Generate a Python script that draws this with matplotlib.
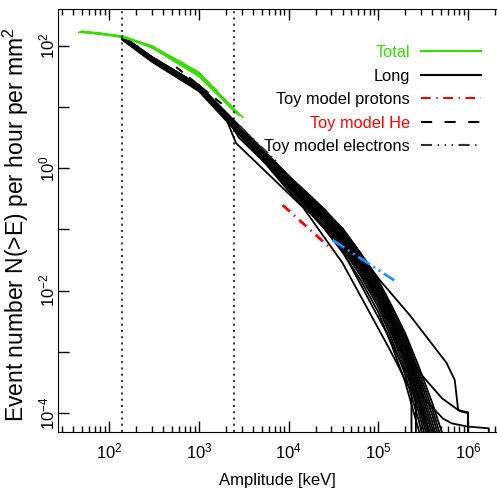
import numpy as np
import matplotlib
matplotlib.use('Agg')
from matplotlib import pyplot as plt

plt.rcParams['font.family'] = ['Liberation Sans', 'DejaVu Sans']
plt.rcParams['mathtext.fontset'] = 'custom'
plt.rcParams['mathtext.rm'] = 'Liberation Sans'
plt.rcParams['mathtext.default'] = 'regular'
plt.rcParams['lines.scale_dashes'] = False

FS = 12

# amplitude grid [keV] shared by the bundle of "Long" curves
long_e = [140, 300, 1000, 2500, 5000, 10000, 15800, 25100, 39800, 63100,
          100000, 141000, 200000, 282000, 398000, 562000]
# log10 of N(>E) for each curve of the bundle
long_logn = [
    [2.10, 1.74, 1.26, 0.63, 0.15, -0.37, -0.67, -0.99, -1.37, -1.82, -2.35, -2.89, -3.50, -4.28, -5.19, -6.30],
    [2.11, 1.75, 1.27, 0.65, 0.17, -0.33, -0.63, -0.94, -1.31, -1.75, -2.27, -2.79, -3.38, -4.12, -4.99, -6.03],
    [2.12, 1.76, 1.29, 0.67, 0.19, -0.30, -0.59, -0.90, -1.27, -1.70, -2.21, -2.71, -3.28, -3.99, -4.82, -5.81],
    [2.12, 1.77, 1.30, 0.68, 0.21, -0.28, -0.57, -0.87, -1.23, -1.66, -2.16, -2.65, -3.20, -3.89, -4.68, -5.63],
    [2.13, 1.78, 1.31, 0.69, 0.23, -0.26, -0.54, -0.85, -1.20, -1.62, -2.12, -2.60, -3.14, -3.81, -4.58, -5.49],
    [2.13, 1.78, 1.31, 0.70, 0.24, -0.25, -0.53, -0.83, -1.18, -1.60, -2.09, -2.57, -3.10, -3.76, -4.51, -5.40],
    [2.13, 1.78, 1.32, 0.71, 0.24, -0.24, -0.52, -0.81, -1.16, -1.58, -2.06, -2.54, -3.06, -3.71, -4.44, -5.31],
    [2.14, 1.79, 1.32, 0.72, 0.26, -0.22, -0.50, -0.79, -1.13, -1.55, -2.03, -2.49, -3.00, -3.63, -4.34, -5.18],
    [2.14, 1.80, 1.33, 0.73, 0.27, -0.20, -0.47, -0.77, -1.10, -1.51, -1.99, -2.44, -2.94, -3.55, -4.24, -5.04],
    [2.15, 1.80, 1.34, 0.74, 0.28, -0.18, -0.45, -0.74, -1.08, -1.48, -1.95, -2.39, -2.88, -3.47, -4.14, -4.91],
    [2.15, 1.81, 1.35, 0.75, 0.30, -0.17, -0.43, -0.72, -1.05, -1.45, -1.91, -2.35, -2.82, -3.40, -4.03, -4.77],
    [2.16, 1.81, 1.35, 0.76, 0.31, -0.15, -0.41, -0.69, -1.02, -1.41, -1.87, -2.30, -2.76, -3.32, -3.93, -4.64],
    [2.16, 1.82, 1.36, 0.77, 0.33, -0.13, -0.39, -0.67, -0.99, -1.38, -1.83, -2.25, -2.70, -3.24, -3.83, -4.50],
]

# curves that leave the bundle
odd_e = [
    [140, 300, 1000, 2000, 2600, 14500, 40000, 135000, 224000, 234000, 234000],
    [140, 300, 1000, 2100, 2800, 12000, 40000, 125000, 220000, 262000, 262000],
    [140, 300, 1000, 2500, 10000, 40000, 100000, 224000, 400000, 575000, 710000, 775000, 1000000, 1000000],
    [140, 300, 1000, 2500, 10000, 40000, 100000, 200000, 280000, 513000, 810000, 1000000, 1000000],
    [140, 300, 1000, 2500, 10000, 40000, 100000, 200000, 316000, 525000, 660000, 980000, 1700000, 1780000],
]
odd_logn = [
    [2.12, 1.77, 1.29, 0.82, 0.41, -0.64, -1.55, -2.97, -3.60, -3.72, -7],
    [2.11, 1.76, 1.28, 0.80, 0.50, -0.40, -1.35, -2.70, -3.45, -3.80, -7],
    [2.16, 1.82, 1.36, 0.77, -0.12, -0.98, -1.80, -2.40, -2.88, -3.18, -3.46, -3.95, -3.99, -7],
    [2.15, 1.81, 1.35, 0.76, -0.14, -1.02, -1.95, -2.85, -3.32, -3.76, -3.97, -4.00, -7],
    [2.14, 1.80, 1.33, 0.74, -0.18, -1.08, -2.05, -2.95, -3.75, -4.09, -4.17, -4.22, -4.25, -7],
]

# "Total" curves (green)
total_e = [
    [46, 80, 140, 300, 1000, 3100],
    [50, 80, 140, 300, 1000, 2600],
    [55, 90, 140, 300, 1000, 2000],
    [60, 100, 160, 300, 900, 1600],
    [70, 100, 150, 300, 1000, 2800],
    [48, 70, 120, 250, 700, 1300],
]
total_logn = [
    [2.22, 2.20, 2.15, 1.99, 1.55, 0.83],
    [2.24, 2.21, 2.15, 1.98, 1.53, 0.90],
    [2.22, 2.19, 2.16, 2.00, 1.57, 1.10],
    [2.21, 2.18, 2.13, 1.98, 1.60, 1.27],
    [2.20, 2.17, 2.13, 1.97, 1.50, 0.86],
    [2.23, 2.21, 2.17, 2.03, 1.70, 1.40],
]

# toy models
he_e, he_n = [560, 2000], [45, 10]
el_e, el_n = [2800, 7500], [5.0, 1.25]
pr_e, pr_n = [8600, 31000], [0.25, 0.046]
bl_e, bl_n = [31000, 150000], [0.067, 0.0148]

vlines = [140, 2450]

green = '#33dd00'

fig = plt.figure(figsize=(4.97, 4.93), dpi=100)
ax = fig.add_axes([58 / 497, 61 / 493, 439 / 497, 423 / 493])

for ys in long_logn:
    ax.plot(long_e, 10 ** np.array(ys), color='k', lw=1.3)
for xs, ys in zip(odd_e, odd_logn):
    ax.plot(xs, 10 ** np.array(ys), color='k', lw=1.3)
for xs, ys in zip(total_e, total_logn):
    ax.plot(xs, 10 ** np.array(ys), color=green, lw=1.1)

ax.plot(he_e, he_n, color='k', lw=1.5, ls=(0, (6, 6)))
ax.plot(el_e, el_n, color='#333333', lw=1.5, ls=(0, (7, 3, 1, 3, 1, 3, 1, 3)))
ax.plot(pr_e, pr_n, color='red', lw=2, ls=(0, (7, 4, 1, 4)))
ax.plot(bl_e, bl_n, color='#1e90ff', lw=2, ls=(0, (10, 3, 1.5, 3, 1.5, 3)))

for v in vlines:
    ax.axvline(v, color='k', lw=1.1, ls=(0, (1.5, 3)))

ax.set_xscale('log')
ax.set_yscale('log')
ax.set_xlim(27, 2.1e6)
ax.set_ylim(4.9e-5, 400)

ax.set_xticks([1e2, 1e3, 1e4, 1e5, 1e6])
ax.set_xticklabels(['10$^2$', '10$^3$', '10$^4$', '10$^5$', '10$^6$'])
ax.set_yticks([1e-4, 1e-3, 1e-2, 1e-1, 1, 10, 100])
ax.set_yticklabels(['10$^{-4}$', '', '10$^{-2}$', '', '10$^0$', '', '10$^2$'])
ax.yaxis.set_minor_locator(matplotlib.ticker.NullLocator())

ax.tick_params(which='both', direction='in', top=True, right=False, labelsize=FS)
ax.tick_params(which='major', length=8, width=1)
ax.tick_params(which='minor', length=4, width=1)
ax.tick_params(axis='x', pad=7)
ax.tick_params(axis='y', labelrotation=90, pad=0.5)
for lab in ax.get_yticklabels():
    lab.set_va('center')
ax.spines['right'].set_visible(False)

ax.set_xlabel('Amplitude [keV]', fontsize=12)
ax.xaxis.set_label_coords(0.5, -0.097)
ax.set_ylabel('Event number N(>E) per hour per mm$^2$', fontsize=16.5)
ax.yaxis.set_label_coords(-0.062, 0.49)

h = [
    plt.Line2D([], [], color=green, lw=1.5),
    plt.Line2D([], [], color='k', lw=1.5),
    plt.Line2D([], [], color='red', lw=1.5, ls=(0, (7, 4, 1, 4))),
    plt.Line2D([], [], color='k', lw=1.5, ls=(0, (8, 9))),
    plt.Line2D([], [], color='#333333', lw=1.5, ls=(0, (8, 4, 1, 4, 1, 4, 1, 4))),
]
labels = ['Total', 'Long', 'Toy model protons', 'Toy model He', 'Toy model electrons']
fig.legend(h, labels, loc='upper right', bbox_to_anchor=(481 / 497, 1 - 45 / 493),
           markerfirst=False, frameon=False, fontsize=11.8, handlelength=3.66,
           handletextpad=0.67, labelspacing=0.52, borderpad=0, borderaxespad=0,
           labelcolor=[green, 'k', 'k', 'red', 'k'])

fig.savefig('out.png', dpi=100)
